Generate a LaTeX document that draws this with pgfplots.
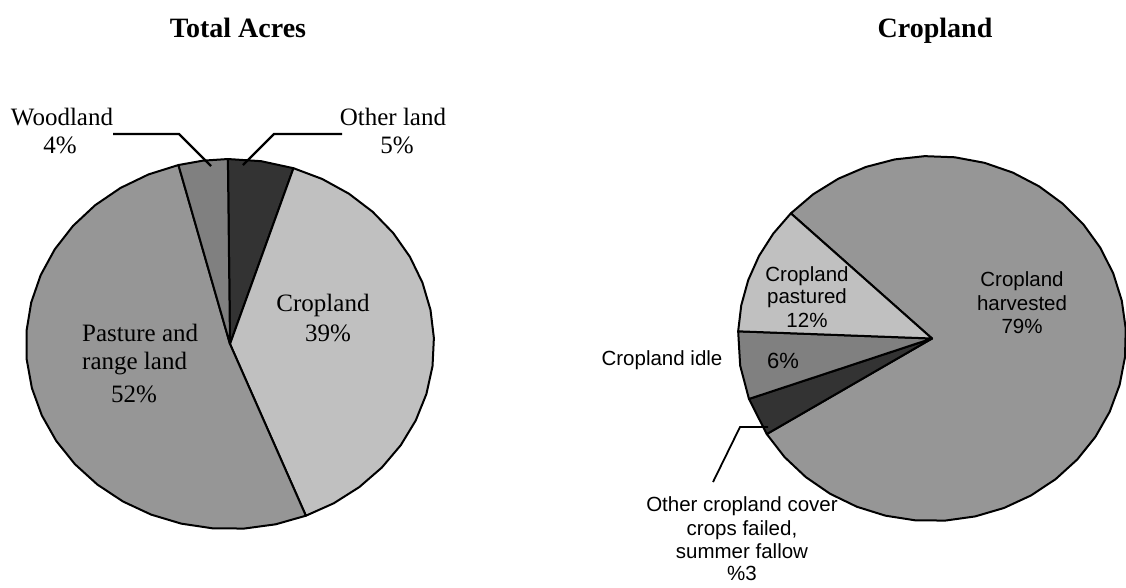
\documentclass[border=0pt]{standalone}
\usepackage{fontspec}
\setmainfont{Liberation Serif}
\newfontfamily\sansfont{Liberation Sans}
\usepackage{pgfplots}
\pgfplotsset{compat=1.18}
\definecolor{cA}{HTML}{333333}
\definecolor{cB}{HTML}{808080}
\definecolor{cC}{HTML}{969696}
\definecolor{cD}{HTML}{C0C0C0}
% ---- data (percent of total) ----
% Total Acres
\def\pOther{5.2}\def\pCrop{38.9}\def\pPast{52.0}\def\pWood{3.9}
% Cropland
\def\pHarv{79.2}\def\pFail{3.4}\def\pIdle{6.0}\def\pPastd{11.4}
% angles for Total Acres (clockwise from 90.6)
\pgfmathsetmacro\La{90.6}%
\pgfmathsetmacro\Lb{\La-3.6*\pOther}%
\pgfmathsetmacro\Lc{\Lb-3.6*\pCrop}%
\pgfmathsetmacro\Ld{\Lc-3.6*\pPast}%
\pgfmathsetmacro\Le{\Ld-3.6*\pWood}%
% angles for Cropland (clockwise from 136.7)
\pgfmathsetmacro\Ra{136.7}%
\pgfmathsetmacro\Rb{\Ra-3.6*\pHarv}%
\pgfmathsetmacro\Rc{\Rb-3.6*\pFail}%
\pgfmathsetmacro\Rd{\Rc-3.6*\pIdle}%
\pgfmathsetmacro\Re{\Rd-3.6*\pPastd}%
% slice: cx cy rx ry angleLow angleHigh colour
\newcommand\pieslice[7]{%
  \pgfmathtruncatemacro\nsamp{max(2,round(abs(#6-#5)/9)+1)}%
  \addplot[draw=black,line width=2pt,line join=round,fill=#7,
    domain=#5:#6,samples=\nsamp,variable=\t]
    ({#1+#3*cos(\t)},{#2-#4*sin(\t)}) -- (axis cs:#1,#2) -- cycle;%
}
\newcommand\lbl[3]{\node[anchor=base,inner sep=0pt] at (axis cs:#1,#2) {#3};}
\newcommand\lbll[3]{\node[anchor=base west,inner sep=0pt] at (axis cs:#1,#2) {#3};}
\newcommand\serifsz{\fontsize{25}{29}\selectfont}
\newcommand\sanssz{\sansfont\fontsize{20.5}{24}\selectfont}
\begin{document}%
\begin{tikzpicture}
\begin{axis}[x=1pt,y=1pt,xmin=0,xmax=1126,ymin=0,ymax=587,y dir=reverse,
  hide axis,clip=false,scale only axis]
\coordinate (bl) at (axis cs:0,587);
\coordinate (tr) at (axis cs:1126,0);
% Total Acres pie
\pieslice{230}{344}{204}{185}{\Lb}{\La}{cA}
\pieslice{230}{344}{204}{185}{\Lc}{\Lb}{cD}
\pieslice{230}{344}{204}{185}{\Ld}{\Lc}{cC}
\pieslice{230}{344}{204}{185}{\Le}{\Ld}{cB}
% Cropland pie
\pieslice{932}{338.5}{194}{182.5}{\Rb}{\Ra}{cC}
\pieslice{932}{338.5}{194}{182.5}{\Rc}{\Rb}{cA}
\pieslice{932}{338.5}{194}{182.5}{\Rd}{\Rc}{cB}
\pieslice{932}{338.5}{194}{182.5}{\Re}{\Rd}{cD}
% leader lines
\draw[line width=2.2pt] (axis cs:113,134) -- (axis cs:179,134) -- (axis cs:211,166);
\draw[line width=2.2pt] (axis cs:342,134) -- (axis cs:274,134) -- (axis cs:243,165);
\draw[line width=1.8pt] (axis cs:768,427) -- (axis cs:740,427) -- (axis cs:713,482);
% titles
\lbl{238}{37}{\fontsize{28}{31}\selectfont\bfseries Total Acres}
\lbl{935}{37}{\fontsize{28}{31}\selectfont\bfseries Cropland}
% left labels (serif)
\lbl{62}{125}{\serifsz Woodland}
\lbl{60}{153}{\serifsz 4\%}
\lbl{393}{125}{\serifsz Other land}
\lbl{397}{153}{\serifsz 5\%}
\lbl{323}{311}{\serifsz Cropland}
\lbl{328}{341}{\serifsz 39\%}
\lbll{82}{341}{\serifsz Pasture and}
\lbll{82}{369}{\serifsz range land}
\lbl{134}{402}{\serifsz 52\%}
% right labels (sans)
\lbl{1022}{286}{\sanssz Cropland}
\lbl{1022}{310}{\sanssz harvested}
\lbl{1022}{333}{\sanssz 79\%}
\lbl{807}{281}{\sanssz Cropland}
\lbl{807}{303}{\sanssz pastured}
\lbl{807}{327}{\sanssz 12\%}
\lbl{783}{368}{\sansfont\fontsize{22}{24}\selectfont 6\%}
\lbl{662}{365}{\sanssz Cropland idle}
\lbl{742}{511}{\sanssz Other cropland cover}
\lbl{742}{535}{\sanssz crops failed,}
\lbl{742}{558}{\sanssz summer fallow}
\lbl{742}{580}{\sanssz \%3}
\end{axis}
\pgfresetboundingbox
\path[use as bounding box] (bl) rectangle (tr);
\end{tikzpicture}%
\end{document}
